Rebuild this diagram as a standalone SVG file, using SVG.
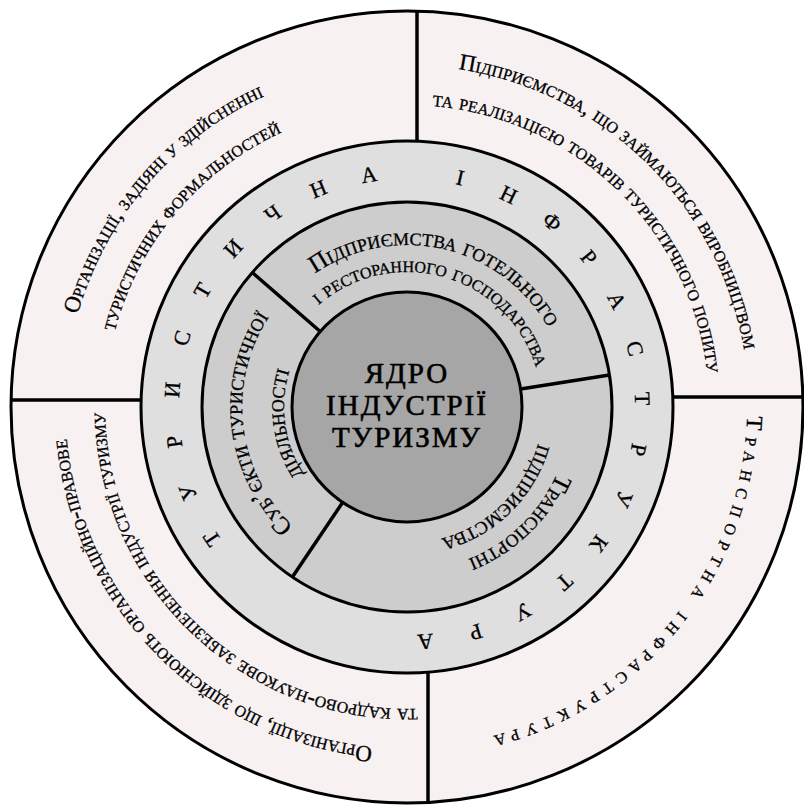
<svg xmlns="http://www.w3.org/2000/svg" width="804" height="809" viewBox="0 0 804 809">
<defs>
<style>
.ring{stroke:#000;stroke-width:3}
.t{font-family:"Liberation Serif","Times New Roman",serif;fill:#000;stroke:#000;stroke-width:0.3}
.sc{font-variant:small-caps}
.o{font-size:23px}
.m{font-size:25px}
.m2{font-size:23.5px}
.r2{font-size:22px;text-anchor:middle}
.core{font-size:29px;text-anchor:middle;letter-spacing:2px;stroke-width:0.6}
.div{stroke:#000;stroke-width:3.5;fill:none;stroke-linecap:butt}
</style>
<path id="p1" d="M143.1,624.5 A342,342 0 0 1 580.6,112.3"/>
<path id="p2" d="M175.7,601.1 A302,302 0 0 1 558,145.5"/>
<path id="p3" d="M208.4,128.6 A342,342 0 0 1 688.8,600.7"/>
<path id="p4" d="M230.3,162.1 A302,302 0 0 1 656.8,576.8"/>
<path id="p5" d="M663.6,183.9 A340,340 0 0 1 242.2,704.4"/>
<path id="p6" d="M602.2,687.8 A342,342 0 0 1 127.6,209.9"/>
<path id="p7" d="M586.6,649.8 A302,302 0 0 1 155.2,240.3"/>
<path id="p8" d="M257.9,343.7 A162,162 0 0 1 568.8,415.5"/>
<path id="p9" d="M285.7,347.8 A135,135 0 0 1 541.3,421.1"/>
<path id="p10" d="M543,315.3 A164,164 0 0 1 310.6,539.7"/>
<path id="p11" d="M519.1,330 A136,136 0 0 1 328,517.7"/>
<path id="p12" d="M397.4,571.7 A165,165 0 0 1 359.6,249"/>
<path id="p13" d="M402.7,529.9 A123,123 0 0 1 369,290"/>
</defs>
<rect width="804" height="809" fill="#fff"/>
<g id="rings">
<circle cx="407" cy="407" r="396" fill="#f7f1f2" class="ring"/>
<circle cx="407" cy="407" r="266" fill="#e0dfe0" class="ring"/>
<circle cx="407" cy="407" r="205" fill="#cdcdcd" class="ring"/>
<circle cx="407" cy="407" r="115" fill="#a6a6a6" class="ring"/>
</g>
<g id="connectors">
<line class="div" x1="417" y1="11" x2="417" y2="141"/>
<line class="div" x1="673" y1="397" x2="803" y2="397"/>
<line class="div" x1="11" y1="400" x2="141" y2="400"/>
<line class="div" x1="428" y1="672" x2="428" y2="803"/>
<line class="div" x1="320.2" y1="331.5" x2="252.3" y2="272.5"/>
<line class="div" x1="520.6" y1="389" x2="609.5" y2="374.9"/>
<line class="div" x1="342.7" y1="502.3" x2="292.4" y2="577"/>
</g>
<g id="org-formalities">
<text class="t sc o" text-anchor="middle"><textPath href="#p1" startOffset="50%">Організації, задіяні у здійсненні</textPath></text>
<text class="t sc o" text-anchor="middle"><textPath href="#p2" startOffset="50%">туристичних формальностей</textPath></text>
</g>
<g id="production-enterprises">
<text class="t sc o" text-anchor="middle"><textPath href="#p3" startOffset="50%">Підприємства, що займаються виробництвом</textPath></text>
<text class="t sc o" text-anchor="middle"><textPath href="#p4" startOffset="50%">та реалізацією товарів туристичного попиту</textPath></text>
</g>
<g id="transport-infrastructure">
<text class="t sc o" text-anchor="middle" letter-spacing="7"><textPath href="#p5" startOffset="50%">Транспортна інфраструктура</textPath></text>
</g>
<g id="org-support">
<text class="t sc o" text-anchor="middle"><textPath href="#p6" startOffset="50%">Організації, що здійснюють організаційно-правове</textPath></text>
<text class="t sc o" text-anchor="middle"><textPath href="#p7" startOffset="50%">та кадрово-наукове забезпечення індустрії туризму</textPath></text>
</g>
<g id="tourist-infrastructure" class="t r2">
<text x="407" y="179" transform="rotate(236 407 407)">Т</text>
<text x="407" y="179" transform="rotate(248.7 407 407)">У</text>
<text x="407" y="179" transform="rotate(261.5 407 407)">Р</text>
<text x="407" y="179" transform="rotate(274.2 407 407)">И</text>
<text x="407" y="179" transform="rotate(287 407 407)">С</text>
<text x="407" y="179" transform="rotate(299.7 407 407)">Т</text>
<text x="407" y="179" transform="rotate(312.4 407 407)">И</text>
<text x="407" y="179" transform="rotate(325.2 407 407)">Ч</text>
<text x="407" y="179" transform="rotate(337.9 407 407)">Н</text>
<text x="407" y="179" transform="rotate(350.7 407 407)">А</text>
<text x="407" y="179" transform="rotate(13.1 407 407)">І</text>
<text x="407" y="179" transform="rotate(25.6 407 407)">Н</text>
<text x="407" y="179" transform="rotate(38.1 407 407)">Ф</text>
<text x="407" y="179" transform="rotate(50.6 407 407)">Р</text>
<text x="407" y="179" transform="rotate(63.1 407 407)">А</text>
<text x="407" y="179" transform="rotate(75.6 407 407)">С</text>
<text x="407" y="179" transform="rotate(88 407 407)">Т</text>
<text x="407" y="179" transform="rotate(100.5 407 407)">Р</text>
<text x="407" y="179" transform="rotate(113 407 407)">У</text>
<text x="407" y="179" transform="rotate(125.5 407 407)">К</text>
<text x="407" y="179" transform="rotate(138 407 407)">Т</text>
<text x="407" y="179" transform="rotate(150.5 407 407)">У</text>
<text x="407" y="179" transform="rotate(163 407 407)">Р</text>
<text x="407" y="179" transform="rotate(175.5 407 407)">А</text>
</g>
<g id="hotel-restaurant">
<text class="t sc m" text-anchor="middle"><textPath href="#p8" startOffset="50%">Підприємства готельного</textPath></text>
<text class="t sc m2" text-anchor="middle"><textPath href="#p9" startOffset="50%">і ресторанного господарства</textPath></text>
</g>
<g id="transport-enterprises">
<text class="t sc m" text-anchor="middle"><textPath href="#p10" startOffset="50%">Транспортні</textPath></text>
<text class="t sc m" text-anchor="middle"><textPath href="#p11" startOffset="50%">підприємства</textPath></text>
</g>
<g id="tourism-subjects">
<text class="t sc m" text-anchor="middle"><textPath href="#p12" startOffset="50%">Суб’єкти туристичної</textPath></text>
<text class="t sc m" text-anchor="middle"><textPath href="#p13" startOffset="50%">діяльності</textPath></text>
</g>
<g id="core" class="t core">
<text x="407" y="383">ЯДРО</text>
<text x="407" y="415">ІНДУСТРІЇ</text>
<text x="407" y="447">ТУРИЗМУ</text>
</g>
</svg>
